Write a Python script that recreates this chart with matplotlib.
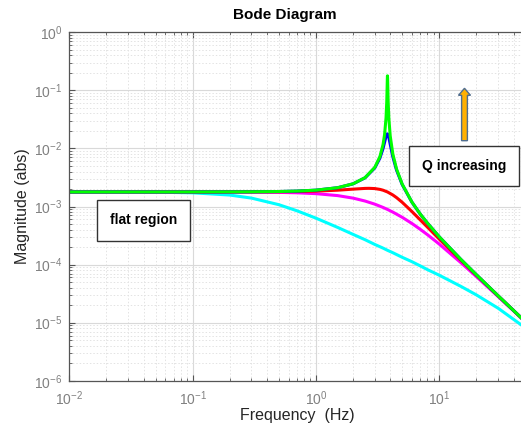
import numpy as np
import matplotlib; matplotlib.use('Agg')
import matplotlib.pyplot as plt
from matplotlib.ticker import FixedLocator, LogLocator, NullFormatter
from matplotlib.patches import FancyArrow

plt.rcParams['font.family'] = ['Liberation Sans', 'DejaVu Sans']
plt.rcParams['mathtext.fontset'] = 'custom'
plt.rcParams['mathtext.rm'] = 'Liberation Sans'
plt.rcParams['mathtext.it'] = 'Liberation Sans'

# ── data (frequency in Hz, magnitude in abs) ──
freq_lo = [0.01, 0.02, 0.05, 0.1, 0.2, 0.3, 0.5, 0.7, 1.0, 1.5, 2.0, 2.5, 3.0,
           3.5, 3.8, 4.2, 5.0, 6.0, 7.0, 8.0, 10, 15, 20, 30, 50]
mag_cyan = [1.78e-3, 1.777e-3, 1.765e-3, 1.72e-3, 1.575e-3, 1.395e-3, 1.075e-3,
            8.45e-4, 6.3e-4, 4.36e-4, 3.31e-4, 2.68e-4, 2.22e-4, 1.92e-4,
            1.76e-4, 1.6e-4, 1.335e-4, 1.12e-4, 9.5e-5, 8.2e-5, 6.55e-5,
            4.2e-5, 3.0e-5, 1.77e-5, 8.1e-6]
mag_magenta = [1.78e-3, 1.78e-3, 1.78e-3, 1.779e-3, 1.775e-3, 1.769e-3, 1.75e-3,
               1.722e-3, 1.665e-3, 1.54e-3, 1.394e-3, 1.242e-3, 1.097e-3,
               9.63e-4, 8.9e-4, 8.01e-4, 6.52e-4, 5.1e-4, 4.05e-4, 3.28e-4,
               2.25e-4, 1.073e-4, 6.2e-5, 2.81e-5, 1.03e-5]

freq_red = [0.01, 0.02, 0.05, 0.1, 0.2, 0.3, 0.5, 0.7, 1.0, 1.5, 2.0, 2.5, 2.7,
            3.0, 3.3, 3.5, 3.8, 4.2, 4.5, 5.0, 6.0, 7.0, 8.0, 10, 15, 20, 30, 50]
mag_red = [1.78e-3, 1.78e-3, 1.78e-3, 1.781e-3, 1.782e-3, 1.786e-3, 1.795e-3,
           1.81e-3, 1.84e-3, 1.91e-3, 1.99e-3, 2.049e-3, 2.055e-3, 2.035e-3,
           1.972e-3, 1.907e-3, 1.78e-3, 1.579e-3, 1.423e-3, 1.182e-3, 8.19e-4,
           5.89e-4, 4.43e-4, 2.744e-4, 1.177e-4, 6.54e-5, 2.879e-5, 1.03e-5]

freq_blue = [0.01, 0.1, 0.3, 0.5, 0.7, 1.0, 1.5, 2.0, 2.5, 3.0, 3.3, 3.5, 3.6,
             3.7, 3.75, 3.78, 3.8, 3.82, 3.85, 3.9, 4.0, 4.2, 4.5, 5.0, 6.0,
             7.0, 8.0, 10, 15, 20, 30, 50]
mag_blue = [1.78e-3, 1.781e-3, 1.791e-3, 1.811e-3, 1.842e-3, 1.912e-3, 2.106e-3,
            2.455e-3, 3.117e-3, 4.625e-3, 6.83e-3, 1.003e-2, 1.275e-2, 1.613e-2,
            1.743e-2, 1.78e-2, 1.78e-2, 1.761e-2, 1.7e-2, 1.539e-2, 1.18e-2,
            7.19e-3, 4.243e-3, 2.395e-3, 1.185e-3, 7.41e-4, 5.19e-4, 3.0e-4,
            1.219e-4, 6.66e-5, 2.902e-5, 1.03e-5]

freq_green = [0.01, 0.1, 0.3, 0.5, 0.7, 1.0, 1.5, 2.0, 2.5, 3.0, 3.3, 3.5, 3.6,
              3.7, 3.75, 3.78, 3.79, 3.8, 3.81, 3.82, 3.85, 3.9, 4.0, 4.2, 4.5,
              5.0, 6.0, 7.0, 8.0, 10, 15, 20, 30, 50]
mag_green = [1.78e-3, 1.781e-3, 1.791e-3, 1.811e-3, 1.843e-3, 1.912e-3, 2.108e-3,
             2.462e-3, 3.138e-3, 4.724e-3, 7.234e-3, 1.171e-2, 1.729e-2,
             3.371e-2, 6.364e-2, 0.123, 0.158, 0.178, 0.157, 0.122, 6.274e-2,
             3.279e-2, 1.641e-2, 8.02e-3, 4.421e-3, 2.433e-3, 1.192e-3, 7.43e-4,
             5.2e-4, 3.002e-4, 1.219e-4, 6.66e-5, 2.902e-5, 1.03e-5]

x_ticks = [1e-2, 1e-1, 1e0, 1e1]
y_ticks = [1e-6, 1e-5, 1e-4, 1e-3, 1e-2, 1e-1, 1e0]

fig = plt.figure(figsize=(5.21, 4.32), dpi=100)
ax = fig.add_axes([69.3/521, 51.3/432, (525.5-69.3)/521, 348.4/432])

ax.loglog(freq_lo, mag_cyan, color='#00FFFF', lw=2.2)
ax.loglog(freq_lo, mag_magenta, color='#FF00FF', lw=2.2)
ax.loglog(freq_red, mag_red, color='#FF0000', lw=2.2)
ax.loglog(freq_blue, mag_blue, color='#0000FF', lw=2.2)
ax.loglog(freq_green, mag_green, color='#00FF00', lw=2.2)

ax.set_xlim(0.01, 50)
ax.set_ylim(1e-6, 1)
ax.xaxis.set_major_locator(FixedLocator(x_ticks))
ax.yaxis.set_major_locator(FixedLocator(y_ticks))
ax.xaxis.set_minor_locator(LogLocator(base=10, subs=np.arange(2, 10), numticks=20))
ax.yaxis.set_minor_locator(LogLocator(base=10, subs=np.arange(2, 10), numticks=20))
ax.set_xticklabels([r'$10^{%d}$' % e for e in (-2, -1, 0, 1)])
ax.set_yticklabels([r'$10^{%d}$' % e for e in (-6, -5, -4, -3, -2, -1, 0)])
ax.xaxis.set_minor_formatter(NullFormatter())
ax.yaxis.set_minor_formatter(NullFormatter())

ax.grid(True, which='major', color='#d9d9d9', lw=0.8, ls='-')
ax.grid(True, which='minor', color='#e3e3e3', lw=0.7, ls=(0, (1.5, 2)))
ax.set_axisbelow(True)
ax.tick_params(which='both', direction='in', top=True, right=False,
               colors='#555555', labelcolor='#808080', labelsize=10)
ax.tick_params(which='major', length=4)
ax.tick_params(which='minor', length=2)
ax.tick_params(axis='x', which='major', pad=6)
ax.tick_params(axis='y', which='major', pad=5)
for s in ax.spines.values():
    s.set_color('#555555'); s.set_linewidth(0.9)

ax.set_xlabel('Frequency  (Hz)', fontsize=11.5, color='#262626', labelpad=0)
ax.set_ylabel('Magnitude (abs)', fontsize=11.5, color='#262626', labelpad=3)
fig.text(285/521, 1 - 15/432, 'Bode Diagram', ha='center', va='center',
         fontsize=11, fontweight='bold')

# annotation boxes
fig.text(143.5/521, 1 - 220.5/432, 'flat region', ha='center', va='center',
         fontsize=10, fontweight='bold',
         bbox=dict(boxstyle='square,pad=0.95', fc='white', ec='#333333', lw=1.0))
fig.text(464/521, 1 - 166/432, 'Q increasing', ha='center', va='center',
         fontsize=10, fontweight='bold',
         bbox=dict(boxstyle='square,pad=0.95', fc='white', ec='#333333', lw=1.0))
arr = FancyArrow(464.5/521, 1 - 140.7/432, 0, (140.7-88.3)/432,
                 width=5.8/521, head_width=12/521, head_length=7/432,
                 length_includes_head=True, transform=fig.transFigure,
                 fc='#FFB000', ec='#4F6D8F', lw=1.0)
fig.patches.append(arr)

plt.savefig('out.png', dpi=100)
